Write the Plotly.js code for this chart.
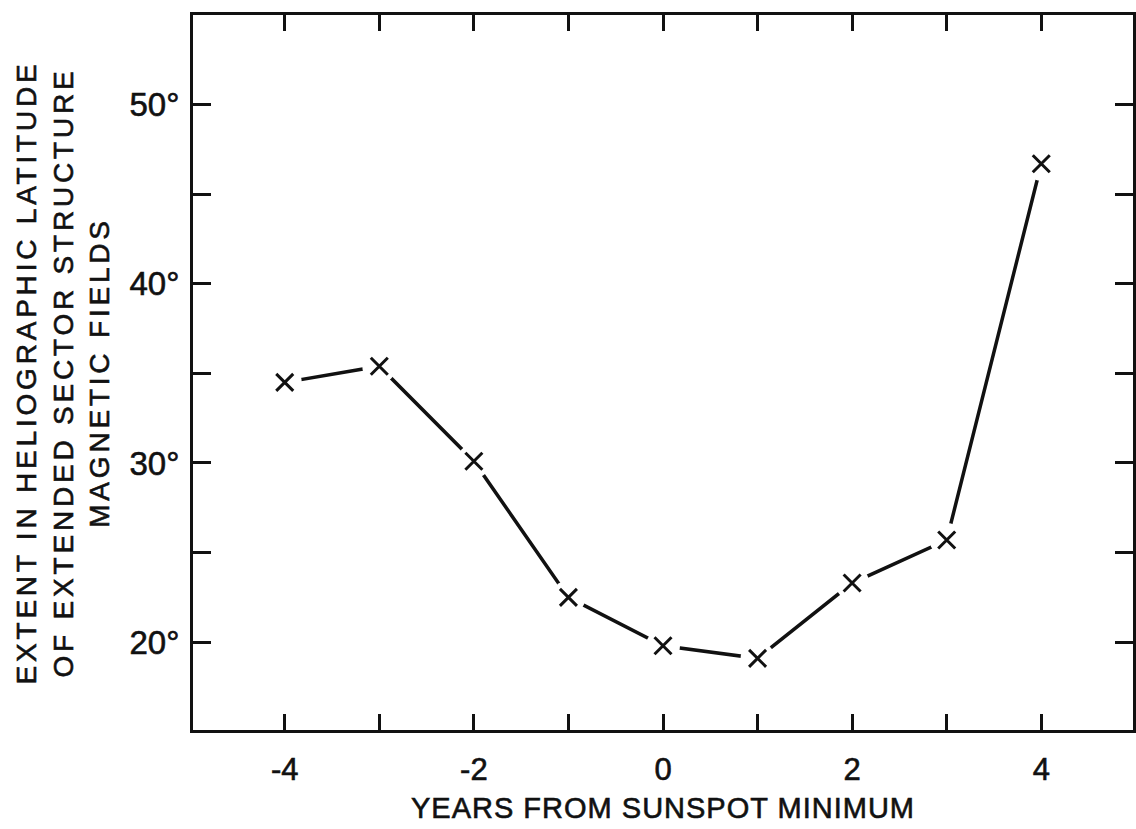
<!DOCTYPE html>
<html>
<head>
<meta charset="utf-8">
<script src="https://cdn.plot.ly/plotly-3.0.1.min.js"></script>
<style>
  html, body { margin: 0; padding: 0; background: #fff; }
  #chart { width: 1136px; height: 829px; }
  .ytitle { letter-spacing: 3.8px; }
  .xtitle { letter-spacing: 1.0px; }
  .xtitle, .ytitle, .xtick text, .ytick text { stroke: #111111; stroke-width: 0.6px; }
</style>
</head>
<body>
<div id="chart"></div>
<script>
// Data
const years = [-4, -3, -2, -1, 0, 1, 2, 3, 4];
const extentDeg = [34.5, 35.4, 30.1, 22.5, 19.8, 19.1, 23.3, 25.7, 46.7];

const xTickVals = [-4, -3, -2, -1, 0, 1, 2, 3, 4];
const xTickText = ['-4', '', '-2', '', '0', '', '2', '', '4'];
const yTickVals = [20, 25, 30, 35, 40, 45, 50];
const yTickText = ['20°', '', '30°', '', '40°', '', '50°'];

const ink = '#111111';
const font = 'Liberation Sans, Arial, sans-serif';

const traces = [
  {
    x: years, y: extentDeg, type: 'scatter', mode: 'lines',
    line: { color: ink, width: 3.5 }, hoverinfo: 'skip', showlegend: false
  },
  {
    // white halo so the line stops short of each cross, as in the drawing
    x: years, y: extentDeg, type: 'scatter', mode: 'markers',
    marker: { symbol: 'circle', size: 34, color: '#ffffff', line: { width: 0 } },
    hoverinfo: 'skip', showlegend: false
  },
  {
    x: years, y: extentDeg, type: 'scatter', mode: 'markers',
    marker: { symbol: 'x-thin', size: 17, color: ink, line: { color: ink, width: 3 } },
    showlegend: false
  }
];

const layout = {
  width: 1136, height: 829,
  margin: { l: 193, r: 3, t: 15, b: 99 },
  paper_bgcolor: '#ffffff', plot_bgcolor: '#ffffff',
  font: { family: font, color: ink },
  showlegend: false,
  xaxis: {
    range: [-4.97, 4.97],
    tickmode: 'array', tickvals: xTickVals, ticktext: xTickText,
    ticks: 'inside', ticklen: 16, tickwidth: 3, tickcolor: ink,
    showline: true, linewidth: 3, linecolor: ink, mirror: 'ticks',
    showgrid: false, zeroline: false,
    tickfont: { size: 31, family: font, color: ink },
    ticklabelstandoff: 10,
    title: { text: 'YEARS FROM SUNSPOT MINIMUM', font: { size: 29, family: font, color: ink }, standoff: 12 }
  },
  yaxis: {
    range: [15.1, 55],
    tickmode: 'array', tickvals: yTickVals, ticktext: yTickText,
    ticks: 'inside', ticklen: 18, tickwidth: 3, tickcolor: ink,
    showline: true, linewidth: 3, linecolor: ink, mirror: 'ticks',
    showgrid: false, zeroline: false,
    tickfont: { size: 33, family: font, color: ink },
    ticklabelstandoff: 4,
    title: {
      text: 'EXTENT IN HELIOGRAPHIC LATITUDE<br>OF EXTENDED SECTOR STRUCTURE<br>MAGNETIC FIELDS',
      font: { size: 28, family: font, color: ink }, standoff: 12
    }
  }
};

Plotly.newPlot('chart', traces, layout, { displayModeBar: false, staticPlot: true });
</script>
</body>
</html>
